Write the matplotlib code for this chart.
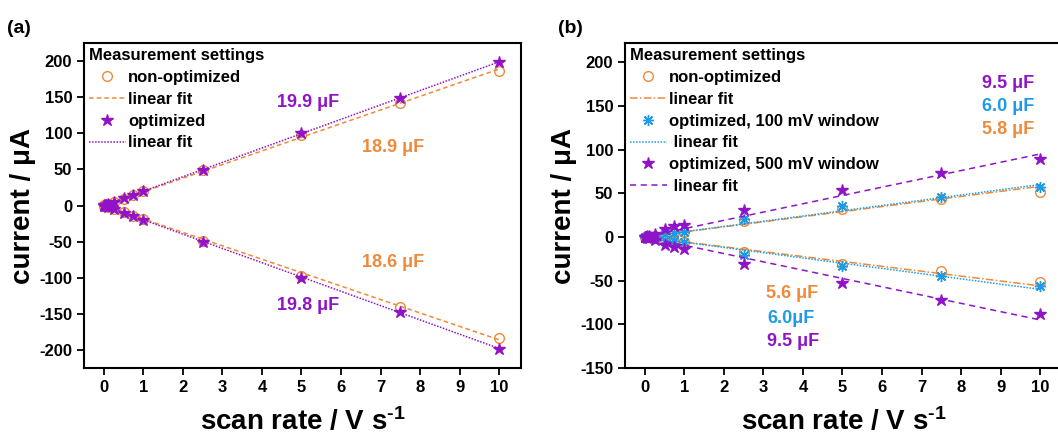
import numpy as np
import matplotlib
matplotlib.use('Agg')
import matplotlib.pyplot as plt
from matplotlib.lines import Line2D

plt.rcParams['font.family'] = ['Liberation Sans', 'DejaVu Sans']
plt.rcParams['font.weight'] = 'bold'
plt.rcParams['axes.unicode_minus'] = False
plt.rcParams['mathtext.fontset'] = 'custom'
plt.rcParams['mathtext.rm'] = 'Liberation Sans:bold'
plt.rcParams['mathtext.bf'] = 'Liberation Sans:bold'
plt.rcParams['mathtext.it'] = 'Liberation Sans:bold'

orange = '#EE8A3A'
purple = '#9013C8'
blue = '#1E9BE6'

# scan rates (V/s)
scan_rate = [0.01, 0.025, 0.05, 0.1, 0.25, 0.5, 0.75, 1, 2.5, 5, 7.5, 10]

# panel (a) currents (uA)
a_nonopt_pos = [0.2, 0.5, 1, 2, 5, 9.5, 14.5, 19.5, 49, 97, 142, 186]
a_nonopt_neg = [-0.2, -0.5, -1, -2, -5, -9.5, -14, -19, -49, -97, -141, -183]
a_opt_pos = [0.2, 0.5, 1, 2, 5, 10, 15, 20, 49, 100, 149, 199]
a_opt_neg = [-0.2, -0.5, -1, -2, -5, -10, -15, -20, -50, -100, -148, -198]
# fitted capacitances (uF): anodic, cathodic
a_cap_nonopt = [18.9, -18.6]
a_cap_opt = [19.9, -19.8]

# panel (b) currents (uA)
b_nonopt_pos = [0.1, 0.2, 0.3, 0.6, 1.5, 3, 4.5, 6, 18, 32, 44, 52]
b_nonopt_neg = [-0.1, -0.2, -0.3, -0.6, -1.5, -3, -4.5, -6, -17, -31, -39, -51]
b_opt100_pos = [0.1, 0.2, 0.3, 0.6, 1.5, 3, 4.5, 6, 21, 35, 46, 57]
b_opt100_neg = [-0.1, -0.2, -0.3, -0.6, -1.5, -3, -4.5, -6, -21, -33, -45, -56]
b_opt500_pos = [0.2, 0.4, 0.7, 1.3, 3, 9, 12, 14, 31, 54, 73, 89]
b_opt500_neg = [-0.2, -0.4, -0.7, -1.3, -3, -9, -12, -14, -31, -53, -72, -88]
b_cap_nonopt = [5.8, -5.6]
b_cap_opt100 = [6.0, -6.0]
b_cap_opt500 = [9.5, -9.5]

fit_x = np.array([0, 10])

fig = plt.figure(figsize=(10.58, 4.38), dpi=100)
ax1 = fig.add_axes([0.0794, 0.1598, 0.413, 0.742])
ax2 = fig.add_axes([0.5907, 0.1598, 0.413, 0.742])

circ = dict(marker='o', ls='none', mfc='none', mec=orange, ms=7, mew=1.0)
star_p = dict(marker='*', ls='none', color=purple, ms=9)
ast = dict(marker=(8, 2, 0), ls='none', color=blue, ms=8, mew=1.0)

# ---- panel (a)
ax1.plot(scan_rate, a_nonopt_pos, **circ)
ax1.plot(scan_rate, a_nonopt_neg, **circ)
for c in a_cap_nonopt:
    ax1.plot(fit_x, c * fit_x, color=orange, ls=(0, (3, 2)), lw=1.1)
ax1.plot(scan_rate, a_opt_pos, **star_p)
ax1.plot(scan_rate, a_opt_neg, **star_p)
for c in a_cap_opt:
    ax1.plot(fit_x, c * fit_x, color=purple, ls=(0, (1, 1)), lw=1.1)

ax1.set_xlim(-0.5, 10.55)
ax1.set_ylim(-225, 225)
ax1.set_yticks(np.arange(-200, 201, 50))

ax1.text(5.16, 142, '19.9 μF', color=purple, fontsize=13, ha='center', va='center')
ax1.text(7.32, 81, '18.9 μF', color=orange, fontsize=13, ha='center', va='center')
ax1.text(7.32, -79, '18.6 μF', color=orange, fontsize=13, ha='center', va='center')
ax1.text(5.16, -138, '19.8 μF', color=purple, fontsize=13, ha='center', va='center')

h1 = [Line2D([], [], **circ),
      Line2D([], [], color=orange, ls=(0, (3, 2)), lw=1.1),
      Line2D([], [], **star_p),
      Line2D([], [], color=purple, ls=(0, (1, 1)), lw=1.1)]
l1 = ['non-optimized', 'linear fit', 'optimized', 'linear fit']
leg1 = ax1.legend(h1, l1, title='Measurement settings', loc='upper left',
                  frameon=False, fontsize=12, title_fontproperties={'weight': 'bold', 'size': 12},
                  borderaxespad=0.0, borderpad=0.3, labelspacing=0.41,
                  handlelength=2.2, handletextpad=0.15)
leg1._legend_box.align = 'left'

# ---- panel (b)
ax2.plot(scan_rate, b_nonopt_pos, **circ)
ax2.plot(scan_rate, b_nonopt_neg, **circ)
for c in b_cap_nonopt:
    ax2.plot(fit_x, c * fit_x, color=orange, ls=(0, (5, 1.5, 1, 1.5)), lw=1.1)
ax2.plot(scan_rate, b_opt100_pos, **ast)
ax2.plot(scan_rate, b_opt100_neg, **ast)
for c in b_cap_opt100:
    ax2.plot(fit_x, c * fit_x, color=blue, ls=(0, (1, 1)), lw=1.1)
ax2.plot(scan_rate, b_opt500_pos, **star_p)
ax2.plot(scan_rate, b_opt500_neg, **star_p)
for c in b_cap_opt500:
    ax2.plot(fit_x, c * fit_x, color=purple, ls=(0, (4, 3)), lw=1.1)

ax2.set_xlim(-0.5, 10.55)
ax2.set_ylim(-150, 222)
ax2.set_yticks(np.arange(-150, 201, 50))

ax2.text(8.54, 176, '9.5 μF', color=purple, fontsize=13, ha='left', va='center')
ax2.text(8.54, 149, '6.0 μF', color=blue, fontsize=13, ha='left', va='center')
ax2.text(8.54, 123, '5.8 μF', color=orange, fontsize=13, ha='left', va='center')
ax2.text(3.06, -65, '5.6 μF', color=orange, fontsize=13, ha='left', va='center')
ax2.text(3.1, -93, '6.0μF', color=blue, fontsize=13, ha='left', va='center')
ax2.text(3.08, -120, '9.5 μF', color=purple, fontsize=13, ha='left', va='center')

h2 = [Line2D([], [], **circ),
      Line2D([], [], color=orange, ls=(0, (5, 1.5, 1, 1.5)), lw=1.1),
      Line2D([], [], **ast),
      Line2D([], [], color=blue, ls=(0, (1, 1)), lw=1.1),
      Line2D([], [], **star_p),
      Line2D([], [], color=purple, ls=(0, (4, 3)), lw=1.1)]
l2 = ['non-optimized', 'linear fit', 'optimized, 100 mV window', ' linear fit',
      'optimized, 500 mV window', ' linear fit']
leg2 = ax2.legend(h2, l2, title='Measurement settings', loc='upper left',
                  frameon=False, fontsize=12, title_fontproperties={'weight': 'bold', 'size': 12},
                  borderaxespad=0.0, borderpad=0.3, labelspacing=0.41,
                  handlelength=2.2, handletextpad=0.15)
leg2._legend_box.align = 'left'

for ax in (ax1, ax2):
    ax.set_xticks(range(0, 11))
    ax.tick_params(direction='out', length=5, width=1.3, labelsize=12)
    for s in ax.spines.values():
        s.set_linewidth(1.5)
    ax.set_xlabel('scan rate / V s$^{\\text{-1}}$', fontsize=20, fontweight='bold', labelpad=9)
    ax.set_ylabel('current / μA', fontsize=20, fontweight='bold', labelpad=2)

fig.text(0.007, 0.935, '(a)', fontsize=14, fontweight='bold', va='center')
fig.text(0.527, 0.935, '(b)', fontsize=14, fontweight='bold', va='center')

fig.savefig('out.png', dpi=100)
